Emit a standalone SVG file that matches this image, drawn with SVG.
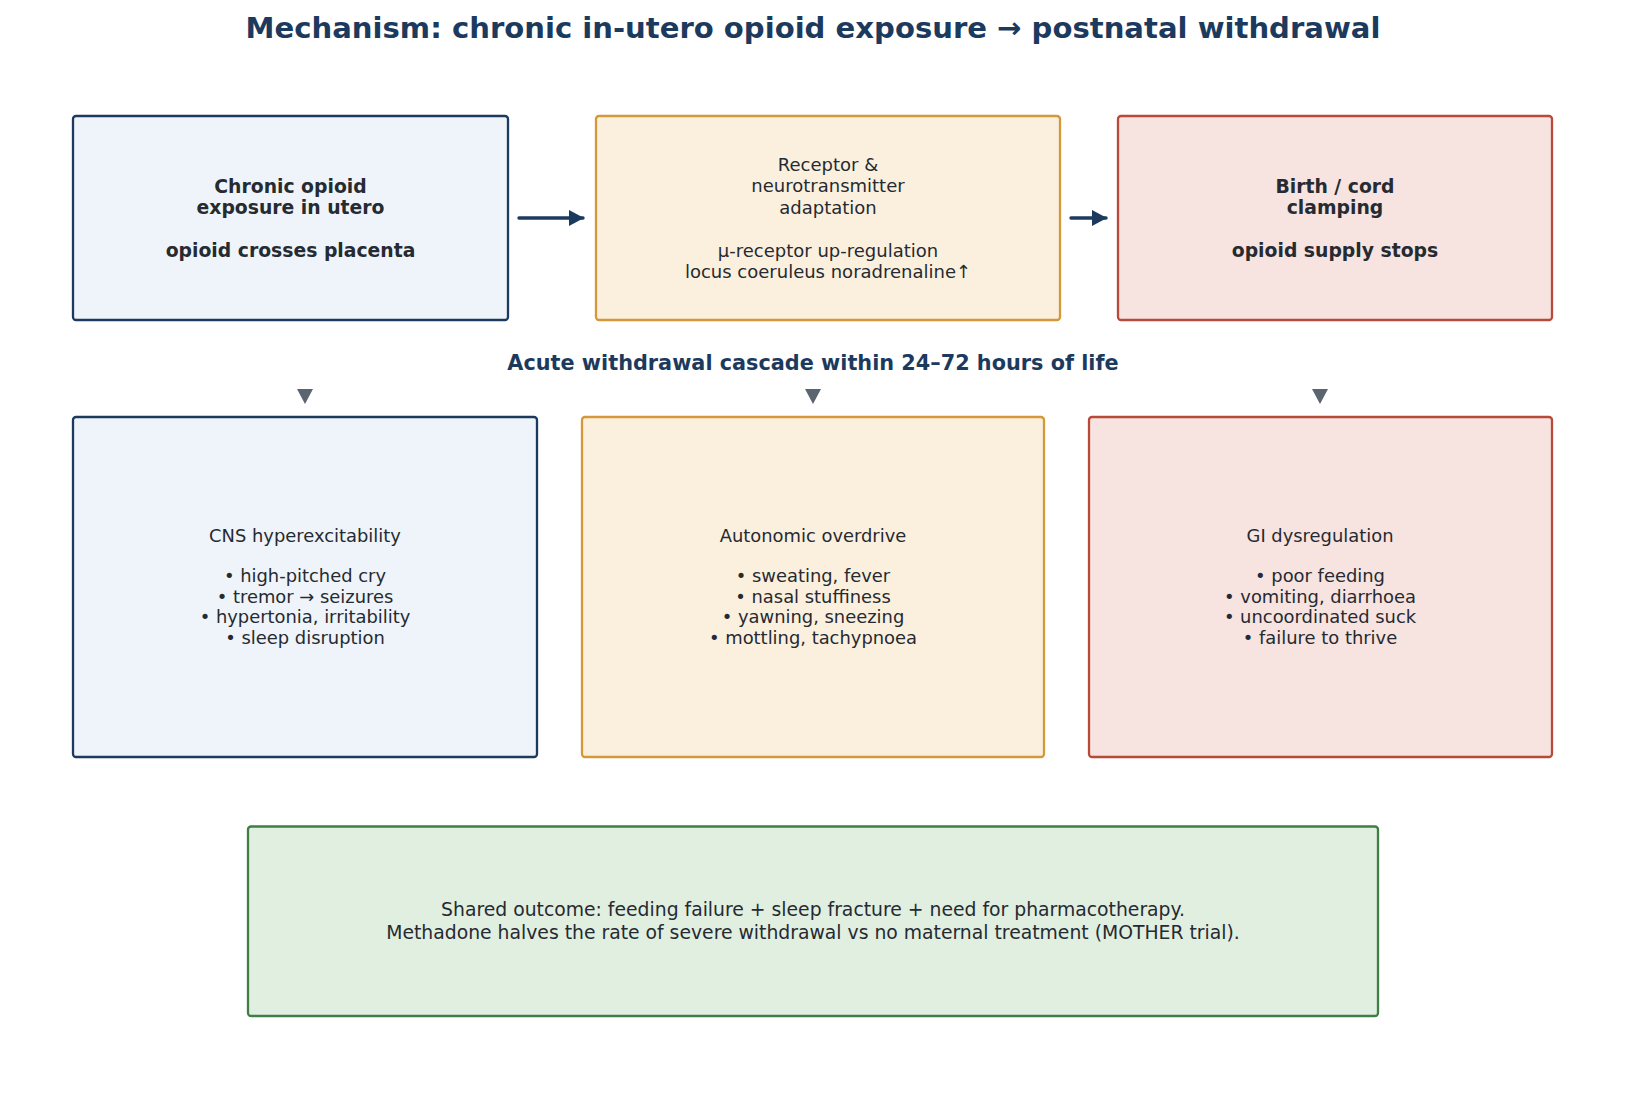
<svg xmlns="http://www.w3.org/2000/svg" width="1626" height="1100" viewBox="0 0 1626 1100">
<style>
text{font-family:"DejaVu Sans","Liberation Sans",sans-serif;text-anchor:middle;fill:#262a31}
.title{font-size:29.1px;font-weight:bold;fill:#1c3a5e}
.sub{font-size:20.8px;font-weight:bold;fill:#1c3a5e}
.t18{font-size:18px}
.b{font-weight:bold;font-size:18.8px}
.t17{font-size:17.9px}
.t19{font-size:18.8px}
.blue{fill:#eef4f9;stroke:#1c3a5e;stroke-width:2.3}
.amber{fill:#fbf0de;stroke:#d4983a;stroke-width:2.3}
.red{fill:#f7e3df;stroke:#b94a3a;stroke-width:2.3}
.green{fill:#e1efe1;stroke:#3f7f46;stroke-width:2.3}
.arr{stroke:#1c3a5e;stroke-width:3.4;fill:none;stroke-linecap:round}
.tri{fill:#5a6570}
</style>
<defs>
<marker id="ah" viewBox="0 0 15 16" refX="14" refY="8" markerWidth="15" markerHeight="16" orient="auto" markerUnits="userSpaceOnUse">
<path d="M0,0 L15,8 L0,16 z" fill="#1c3a5e"/>
</marker>
</defs>
<rect width="1626" height="1100" fill="#ffffff"/>
<text class="title" x="813" y="38">Mechanism: chronic in-utero opioid exposure → postnatal withdrawal</text>

<g id="node-exposure">
<rect class="blue" x="73" y="116" width="435" height="204" rx="3"/>
<text class="t18 b"><tspan x="290.5" y="192.5">Chronic opioid</tspan><tspan x="290.5" y="214">exposure in utero</tspan><tspan x="290.5" y="257.2">opioid crosses placenta</tspan></text>
</g>
<g id="node-adaptation">
<rect class="amber" x="596" y="116" width="464" height="204" rx="3"/>
<text class="t18"><tspan x="828" y="170.5">Receptor &amp;</tspan><tspan x="828" y="192">neurotransmitter</tspan><tspan x="828" y="213.6">adaptation</tspan><tspan x="828" y="256.8">μ-receptor up-regulation</tspan><tspan x="828" y="278.4">locus coeruleus noradrenaline↑</tspan></text>
</g>
<g id="node-birth">
<rect class="red" x="1118" y="116" width="434" height="204" rx="3"/>
<text class="t18 b"><tspan x="1335" y="192.5">Birth / cord</tspan><tspan x="1335" y="214">clamping</tspan><tspan x="1335" y="257.2">opioid supply stops</tspan></text>
</g>

<text class="sub" x="813" y="369.5">Acute withdrawal cascade within 24–72 hours of life</text>

<g id="node-cns">
<rect class="blue" x="73" y="417" width="464" height="340" rx="3"/>
<text class="t17"><tspan x="305" y="541.5">CNS hyperexcitability</tspan><tspan x="305" y="582.3">• high-pitched cry</tspan><tspan x="305" y="602.7">• tremor → seizures</tspan><tspan x="305" y="623.1">• hypertonia, irritability</tspan><tspan x="305" y="643.5">• sleep disruption</tspan></text>
</g>
<g id="node-autonomic">
<rect class="amber" x="582" y="417" width="462" height="340" rx="3"/>
<text class="t17"><tspan x="813" y="541.5">Autonomic overdrive</tspan><tspan x="813" y="582.3">• sweating, fever</tspan><tspan x="813" y="602.7">• nasal stuffiness</tspan><tspan x="813" y="623.1">• yawning, sneezing</tspan><tspan x="813" y="643.5">• mottling, tachypnoea</tspan></text>
</g>
<g id="node-gi">
<rect class="red" x="1089" y="417" width="463" height="340" rx="3"/>
<text class="t17"><tspan x="1320" y="541.5">GI dysregulation</tspan><tspan x="1320" y="582.3">• poor feeding</tspan><tspan x="1320" y="602.7">• vomiting, diarrhoea</tspan><tspan x="1320" y="623.1">• uncoordinated suck</tspan><tspan x="1320" y="643.5">• failure to thrive</tspan></text>
</g>

<g id="node-outcome">
<rect class="green" x="248" y="826.5" width="1130" height="189.5" rx="3"/>
<text class="t19"><tspan x="813" y="916">Shared outcome: feeding failure + sleep fracture + need for pharmacotherapy.</tspan><tspan x="813" y="938.8">Methadone halves the rate of severe withdrawal vs no maternal treatment (MOTHER trial).</tspan></text>
</g>

<g id="connectors">
<line class="arr" x1="519" y1="218" x2="583" y2="218" marker-end="url(#ah)"/>
<line class="arr" x1="1071" y1="218" x2="1106" y2="218" marker-end="url(#ah)"/>
<path class="tri" d="M297,389 L313,389 L305,404 z"/>
<path class="tri" d="M805,389 L821,389 L813,404 z"/>
<path class="tri" d="M1312,389 L1328,389 L1320,404 z"/>
</g>
</svg>
